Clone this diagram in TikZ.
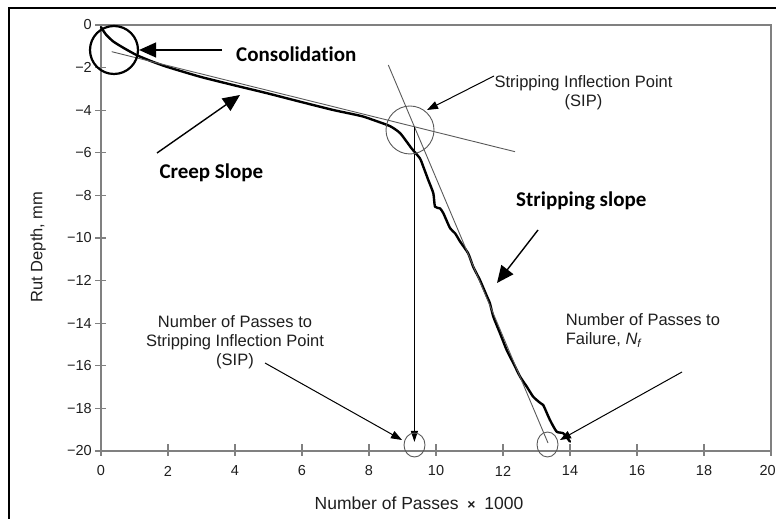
\documentclass[tikz,border=0pt]{standalone}
\usepackage{fontspec}
\setmainfont{Liberation Sans}
\newfontfamily\calibri[Ligatures=NoCommon]{Carlito}
\usetikzlibrary{arrows.meta,shapes.geometric}
\definecolor{axgray}{HTML}{808080}
\definecolor{tangray}{HTML}{5A5A5A}
\definecolor{txtgray}{HTML}{1E1E1E}
\begin{document}
\begin{tikzpicture}[x=1pt,y=1pt,
  axisline/.style={draw=axgray, line width=1.7pt},
  tickmark/.style={draw=axgray, line width=1.2pt},
  ticklabel/.style={font=\fontsize{14.5}{16}\selectfont, text=txtgray, inner sep=0pt},
  annot/.style={font=\fontsize{16.5}{19}\selectfont, text=txtgray, inner sep=0pt},
  boldlabel/.style={font=\calibri\bfseries\fontsize{21}{24}\selectfont, inner sep=0pt, anchor=base west},
  tangent/.style={draw=tangray, line width=0.9pt},
  bigarrow/.style={draw=black, line width=1.4pt, -{Triangle[length=17pt,width=15pt]}},
  thinarrow/.style={draw=black, line width=1pt, -{Triangle[length=11pt,width=8pt]}},
  smallring/.style={ellipse, draw=tangray, line width=0.9pt, minimum width=21pt, minimum height=24pt, inner sep=0pt}]
\useasboundingbox (0,0) rectangle (776,519);
% outer frame
\draw[line width=2.6pt] (9,-10) -- (9,511) -- (790,511);
% plot frame
\draw[axisline] (101,68) rectangle (771,494);
\begin{scope}[shift={(101pt,494pt)}, x=33.5pt, y=21.3pt]
  \foreach \k in {0,2,...,20} {
    \draw[tickmark] ([xshift=-6pt]0,-\k) -- ([xshift=5pt]0,-\k);
    \node[ticklabel, anchor=east] (yl\k) at ([xshift=-9pt]0,-\k) {\ifnum\k=0 0\else −\k\fi};
    \draw[tickmark] ([yshift=-5pt]\k,-20) -- ([yshift=7pt]\k,-20);
  }
  \foreach \k in {0,2,...,18} {
    \node[ticklabel, anchor=center] (xl\k) at ([yshift=-20pt]\k,-20) {\k};
  }
  \node[ticklabel, anchor=east] (xl20) at ([xshift=5pt, yshift=-20pt]20,-20) {20};
  % rut curve
  \draw[line width=2.4pt, line join=round, line cap=round] plot[smooth, tension=0.35] coordinates {
    (0,-0.1) (0.15,-0.45) (0.37,-0.78) (0.7,-1.1) (1.06,-1.41) (1.5,-1.7) (1.96,-1.96)
    (2.96,-2.43) (3.95,-2.82) (4.95,-3.2) (5.94,-3.6) (6.93,-3.99) (7.5,-4.18) (7.83,-4.3)
    (8.2,-4.5) (8.63,-4.75) (8.93,-5.08) (9.27,-5.79) (9.52,-6.26) (9.62,-6.65) (9.77,-7.28)
    (9.92,-7.90) (9.97,-8.53) (10.12,-8.61) (10.22,-8.84) (10.42,-9.54) (10.57,-9.78)
    (10.72,-10.17) (10.96,-10.72) (11.11,-11.35) (11.31,-11.97) (11.51,-12.7) (11.61,-13.07)
    (11.71,-13.69) (11.91,-14.47) (12.11,-15.26) (12.31,-15.88) (12.51,-16.51) (12.71,-16.98)
    (12.9,-17.45) (13.1,-17.73) (13.2,-17.84) (13.4,-18.54) (13.6,-19.09) (13.8,-19.17) (14.0,-19.56)};
\end{scope}
% tangents
\coordinate (c1) at (111.7,467.3);
\coordinate (c2) at (515,367.3);
\coordinate (s1) at (388.3,454);
\coordinate (s2) at (548,76);
\draw[tangent] (c1) -- (c2);
\draw[tangent] (s1) -- (s2);
\coordinate (sip) at (intersection of c1--c2 and s1--s2);
\coordinate (vtip) at (414.4,77);
\draw[thinarrow, line width=0.9pt, -{Triangle[length=11pt,width=7pt]}] (sip) -- (sip |- vtip);
% circles
\node[circle, draw=black, line width=2.2pt, minimum size=48pt, inner sep=0pt] (consC) at (114,469) {};
\node[circle, draw=tangray, line width=0.9pt, minimum size=48pt, inner sep=0pt] (sipC) at (410,389) {};
\node[smallring] (ringA) at (414.5,74) {};
\node[smallring, minimum height=25pt] (ringB) at (547.5,74.5) {};
% labels
\node[boldlabel] (consT) at (236,457) {Consolidation};
\node[boldlabel] (creepT) at (159.3,340.7) {Creep Slope};
\node[boldlabel] (stripT) at (516,312.3) {Stripping slope};
\node[annot, align=center, anchor=north] (sipT) at (583.5,444) {Stripping Inflection Point\\(SIP)};
\node[annot, align=center, anchor=north] (npT) at (235,204) {Number of Passes to\\Stripping Inflection Point\\(SIP)};
\node[annot, align=left, anchor=north west] (nfT) at (565.7,205.7) {Number of Passes to\\Failure, \textit{N}\textsubscript{\textit{f}}};
\node[font=\fontsize{16.5}{19}\selectfont, text=txtgray, rotate=90, inner sep=0pt] (ylab) at (38,272) {Rut Depth, mm};
\node[font=\fontsize{17.5}{19}\selectfont, text=txtgray, inner sep=0pt] (xlab) at (419,16) {Number of Passes\enspace{\fontsize{14}{14}\selectfont\bfseries ×}\enspace1000};
% arrows
\coordinate (consA) at (222,469);
\draw[bigarrow] (consA) -- (consC.east);
\coordinate (creepA) at (157,366);
\coordinate (creepB) at (240,424);
\draw[bigarrow] (creepA) -- (creepB);
\coordinate (stripA) at (538,289);
\coordinate (stripB) at (497,236);
\draw[bigarrow] (stripA) -- (stripB);
\coordinate (sipA) at (494,443);
\coordinate (sipB) at (427,409);
\draw[thinarrow] (sipA) -- (sipB);
\coordinate (npA) at (265,156);
\coordinate (npB) at (402,79);
\draw[thinarrow] (npA) -- (npB);
\coordinate (nfA) at (682,147);
\coordinate (nfB) at (560,79);
\draw[thinarrow] (nfA) -- (nfB);
\end{tikzpicture}
\end{document}
